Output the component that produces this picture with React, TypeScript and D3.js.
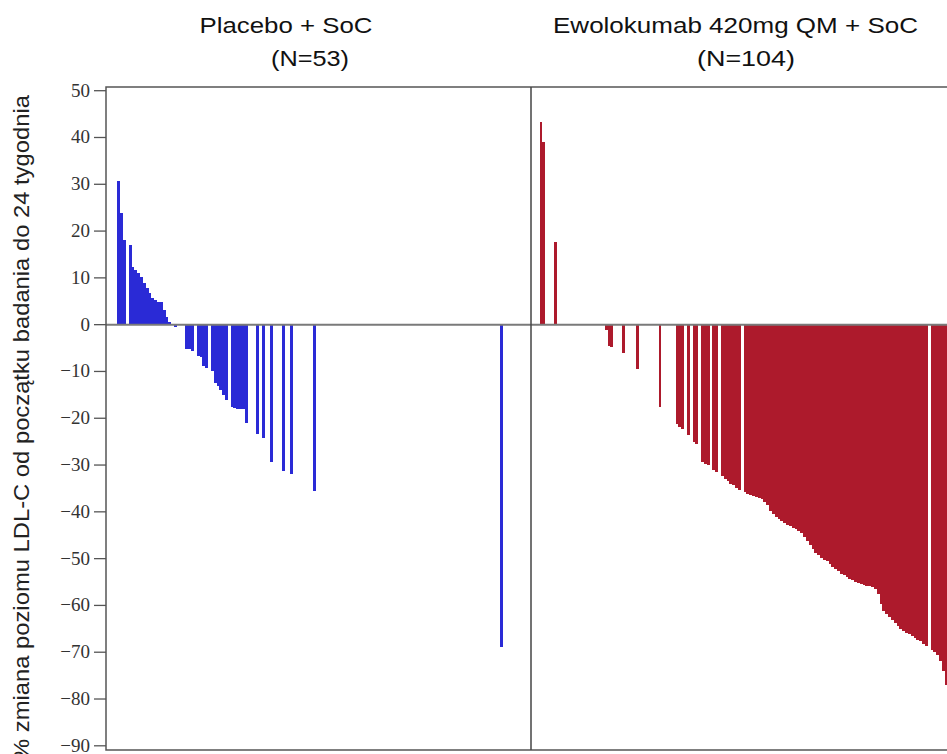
import React from "react";
import * as d3 from "d3";

// Waterfall of individual % change in LDL-C from baseline to week 24.
// Each panel has a fixed number of subject slots; empty slots stay blank.
const SLOT_COUNT = 150;

const yTicks = [50, 40, 30, 20, 10, 0, -10, -20, -30, -40, -50, -60, -70, -80, -90];

const panelTitles = ["Placebo + SoC", "Ewolokumab 420mg QM + SoC"];
const panelCounts = ["(N=53)", "(N=104)"];

const yTitle = "% zmiana poziomu LDL-C od początku badania do 24 tygodnia";

// Placebo + SoC: slot index and % change
const placeboSlots = [
  4, 5, 6, 8, 9, 10, 11, 12, 13, 14, 15, 16, 17, 18, 19, 20, 21, 22, 23, 24,
  28, 29, 30, 32, 33, 34, 35, 37, 38, 39, 40, 41, 42, 44, 45, 46, 47, 48, 49,
  53, 55, 58, 62, 65, 73, 139,
];
const placeboChange = [
  30.7, 23.8, 18.1, 17.0, 12.4, 11.7, 11.0, 10.2, 8.9, 7.8, 6.8, 5.7, 5.3, 4.9, 4.9, 3.1, 1.7, 0.6, 0.2, -0.4,
  -5.2, -5.3, -5.6, -6.7, -6.9, -8.9, -9.3, -10.0, -12.5, -13.2, -13.9, -15.0, -16.1, -17.5, -17.9, -18.0, -18.1, -18.1, -21.1,
  -23.3, -24.3, -29.3, -31.2, -31.9, -35.5, -68.9,
];

// Ewolokumab 420mg QM + SoC: slot index and % change
const evoSlots = [
  3, 4, 8, 26, 27, 28, 32, 37, 45,
  51, 52, 53, 55, 57, 58, 60, 61, 62, 64, 65, 67, 68, 69, 70, 71, 72, 73,
  75, 76, 77, 78, 79, 80, 81, 82, 83, 84, 85, 86, 87, 88, 89, 90, 91, 92, 93, 94,
  95, 96, 97, 98, 99, 100, 101, 102, 103, 104, 105, 106, 107, 108, 109, 110,
  111, 112, 113, 114, 115, 116, 117, 118, 119, 120, 121, 122, 123, 124, 125, 126,
  127, 128, 129, 130, 131, 132, 133, 134, 135, 136, 137, 138, 139,
  141, 142, 143, 144, 145, 146,
];
const evoChange = [
  43.4, 39.1, 17.7, -1.2, -4.6, -4.8, -6.0, -9.5, -17.6,
  -21.2, -21.9, -22.2, -23.5, -25.0, -25.6, -29.4, -29.8, -30.0, -31.0, -31.5, -32.4, -33.0, -33.5, -34.0, -34.3, -35.0, -35.3,
  -35.7, -36.1, -36.4, -36.6, -36.8, -37.0, -37.3, -37.8, -38.6, -39.8, -40.5, -41.0, -41.6, -42.0, -42.4, -42.8, -43.1, -43.4, -43.7, -44.0,
  -44.5, -45.3, -46.2, -47.1, -48.0, -48.7, -49.2, -49.8, -50.2, -50.6, -51.1, -51.7, -52.3, -52.7, -53.2, -53.6,
  -54.0, -54.3, -54.6, -54.9, -55.2, -55.4, -55.6, -55.8, -55.9, -56.1, -56.4, -57.5, -59.8, -61.2, -61.9, -62.5,
  -63.1, -63.8, -64.5, -65.0, -65.4, -65.8, -66.1, -66.5, -66.9, -67.3, -67.7, -68.2, -68.6,
  -69.5, -70.0, -70.6, -71.8, -74.0, -77.0,
];

const W = 947;
const H = 754;
const plotLeft = 106;
const panelWidth = 425;
const plotTop = 87;
const plotBottom = 750;

const BLUE = "#2a2ad6";
const RED = "#ad1a2c";

const y = d3.scaleLinear().domain([-90, 50]).range([745.8, 90.7]);

function Panel({ slots, values, x0, color }: { slots: number[]; values: number[]; x0: number; color: string }) {
  const x = d3.scaleLinear().domain([0, SLOT_COUNT]).range([x0, x0 + panelWidth]);
  return (
    <g shapeRendering="crispEdges">
      {slots.map((s, i) => {
        const v = values[i];
        const left = Math.round(x(s));
        const right = Math.round(x(s + 1));
        const top = Math.round(y(Math.max(v, 0)));
        const bottom = Math.round(y(Math.min(v, 0)));
        return (
          <rect
            key={s}
            x={left}
            y={top}
            width={right - left}
            height={Math.max(bottom - top, 1)}
            fill={color}
          />
        );
      })}
    </g>
  );
}

export default function App() {
  const sans = "'Liberation Sans', Arial, sans-serif";
  const serif = "'Liberation Serif', 'Times New Roman', Times, serif";
  const x1 = plotLeft + panelWidth;
  return (
    <svg
      width={W}
      height={H}
      style={{ position: "absolute", left: 0, top: 0, background: "#fff" }}
    >
      <rect x={0} y={0} width={W} height={H} fill="#fff" />

      {/* panel headers */}
      <text x={286} y={33} fontFamily={sans} fontSize={22} textAnchor="middle" fill="#111"
        textLength={173} lengthAdjust="spacingAndGlyphs">{panelTitles[0]}</text>
      <text x={310} y={66} fontFamily={sans} fontSize={22} textAnchor="middle" fill="#111"
        textLength={78} lengthAdjust="spacingAndGlyphs">{panelCounts[0]}</text>
      <text x={735.5} y={33} fontFamily={sans} fontSize={22} textAnchor="middle" fill="#111"
        textLength={365} lengthAdjust="spacingAndGlyphs">{panelTitles[1]}</text>
      <text x={746} y={66} fontFamily={sans} fontSize={22} textAnchor="middle" fill="#111"
        textLength={98} lengthAdjust="spacingAndGlyphs">{panelCounts[1]}</text>

      {/* bars */}
      <Panel slots={placeboSlots} values={placeboChange} x0={plotLeft} color={BLUE} />
      <Panel slots={evoSlots} values={evoChange} x0={x1} color={RED} />

      {/* zero reference line */}
      <line x1={plotLeft} x2={x1 + panelWidth} y1={y(0)} y2={y(0)} stroke="#7a7a7a" strokeWidth={2} />

      {/* frame and panel divider */}
      <rect x={plotLeft} y={plotTop} width={panelWidth * 2} height={plotBottom - plotTop}
        fill="none" stroke="#555" strokeWidth={1.5} />
      <line x1={x1} x2={x1} y1={plotTop} y2={plotBottom} stroke="#444" strokeWidth={1.5} />

      {/* y axis ticks and labels */}
      {yTicks.map((t) => (
        <g key={t}>
          <line x1={plotLeft - 12} x2={plotLeft} y1={y(t)} y2={y(t)} stroke="#555" strokeWidth={1.3} />
          <text
            x={plotLeft - 16}
            y={y(t) + 6}
            style={{ fontFamily: serif, fontSize: "19px" }}
            textAnchor="end"
            fill="#333"
          >
            {t < 0 ? `\u2212${-t}` : `${t}`}
          </text>
        </g>
      ))}

      {/* y axis title */}
      <text
        transform={`translate(29, 760) rotate(-90)`}
        fontFamily={sans}
        fontSize={22}
        fill="#222"
        textLength={665}
        lengthAdjust="spacingAndGlyphs"
      >
        {yTitle}
      </text>
    </svg>
  );
}
